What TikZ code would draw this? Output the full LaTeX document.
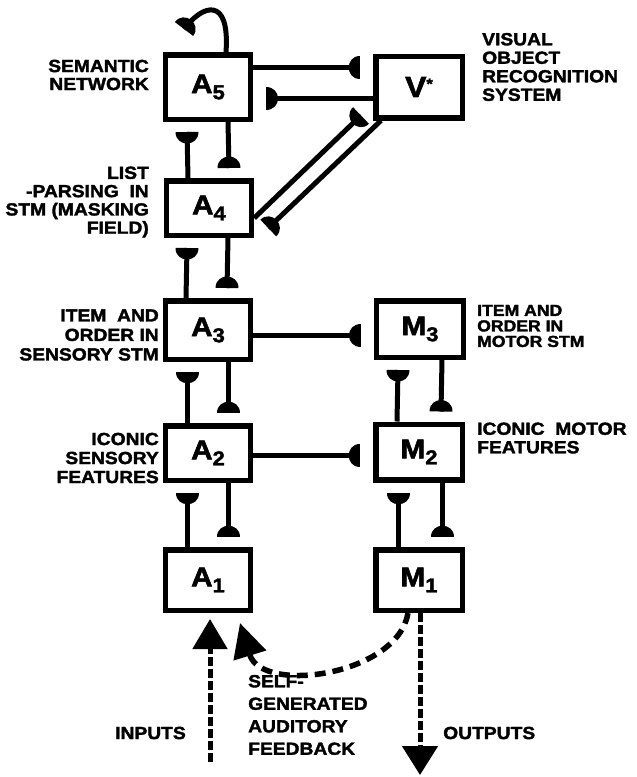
\documentclass[tikz,border=0pt]{standalone}
\usepackage{fontspec}
\newfontfamily\lbl{Liberation Sans}[UprightFont={* Bold},BoldFont={* Bold},FakeStretch=1.1,FakeBold=2]
\usetikzlibrary{calc,arrows.meta}

% filled half-disc terminal at #2, flat side facing away from #1
\newcommand\synterm[2]{%
  \pgfmathanglebetweenpoints{\pgfpointanchor{#1}{center}}{\pgfpointanchor{#2}{center}}%
  \let\synang\pgfmathresult
  \begin{scope}[shift={(#2)},rotate=\synang]
    \fill (0pt,-11.5pt) .. controls (-15.3pt,-11.5pt) and (-15.3pt,11.5pt) .. (0pt,11.5pt) -- cycle;
  \end{scope}}
\newcommand\synline[2]{\draw[conn] (#1) -- (#2); \synterm{#1}{#2}}
% vertical pair of connectors between upper #1 and lower #2
\newcommand\vpair[4]{%
  \coordinate (#1#2ls) at ($(#2.north)+(#3,0)$);
  \coordinate (#1#2le) at ($(#1.south)+(#3,10)$);
  \coordinate (#1#2rs) at ($(#1.south)+(#4,0)$);
  \coordinate (#1#2re) at ($(#2.north)+(#4,-10)$);
  \synline{#1#2ls}{#1#2le}
  \synline{#1#2rs}{#1#2re}}
\newcommand\bsub[2]{{\fontsize{27}{27}\selectfont #1}\raisebox{-6pt}{\fontsize{20}{20}\selectfont #2}}

\tikzset{
  box/.style={draw, line width=5.5pt, minimum width=85pt, inner sep=0pt, font=\lbl},
  conn/.style={line width=5pt},
  lab/.style={inner sep=0pt, font=\lbl\fontsize{17.5}{18}\selectfont},
  dline/.style={line width=5pt, dash pattern=on 9pt off 3pt},
  fbline/.style={line width=5.5pt, dash pattern=on 11pt off 7pt},
}

\begin{document}
\begin{tikzpicture}[x=1pt,y=-1pt]
\useasboundingbox (0,0) rectangle (637,777);

% boxes
\node[box, minimum height=64.5pt] (A5) at (208,87) {\bsub{A}{5}};
\node[box, minimum height=54.5pt] (A4) at (209,208) {\bsub{A}{4}};
\node[box, minimum height=58.5pt] (A3) at (208,330) {\bsub{A}{3}};
\node[box, minimum height=54.5pt] (A2) at (208,453) {\bsub{A}{2}};
\node[box, minimum height=60.5pt] (A1) at (208,580) {\bsub{A}{1}};
\node[box, minimum width=86.5pt, minimum height=61.5pt] (V) at (419,87)
  {\fontsize{29}{29}\selectfont V\raisebox{8pt}{\fontsize{15}{15}\selectfont *}};
\node[box, minimum width=87pt, minimum height=56.5pt] (M3) at (420,329) {\bsub{M}{3}};
\node[box, minimum width=86.5pt, minimum height=55.5pt] (M2) at (419,452) {\bsub{M}{2}};
\node[box, minimum width=86.5pt, minimum height=60.5pt] (M1) at (419,580) {\bsub{M}{1}};

% vertical connectors
\vpair{A5}{A4}{-21}{20}
\vpair{A4}{A3}{-22}{19}
\vpair{A3}{A2}{-21}{20}
\vpair{A2}{A1}{-21}{20}
\vpair{M3}{M2}{-22}{22}
\vpair{M2}{M1}{-21}{23}

% horizontal connectors
\coordinate (h1s) at ($(A5.east)+(0,-20)$);
\coordinate (h1e) at ($(V.west)+(-13,-20)$);
\synline{h1s}{h1e}
\coordinate (h2s) at ($(V.west)+(0,11)$);
\coordinate (h2e) at ($(A5.east)+(13,11)$);
\synline{h2s}{h2e}
\coordinate (h3e) at ($(M3.west)+(-13,6)$);
\coordinate (h3s) at (A3.east |- h3e);
\synline{h3s}{h3e}
\coordinate (h4e) at ($(M2.west)+(-13,3)$);
\coordinate (h4s) at (A2.east |- h4e);
\synline{h4s}{h4e}

% diagonal connectors A4 <-> V*
\coordinate (d1s) at ($(A4.east)+(0,10)$);
\coordinate (d1e) at ($(V.south west)+(-12,-5)$);
\synline{d1s}{d1e}
\coordinate (d2s) at ($(V.south west)+(8,0)$);
\coordinate (d2e) at ($(A4.east)+(14,20)$);
\synline{d2s}{d2e}

% self loop on A5
\coordinate (lp0) at ($(A5.north)+(18,0)$);
\coordinate (lpc) at (203,4);
\coordinate (lp1) at (184,29);
\draw[conn] (lp0) .. controls (230,-4) and (lpc) .. (lp1);
\synterm{lpc}{lp1}

% inputs / outputs / feedback
\coordinate (in0) at (210,762);
\coordinate (in1) at ($(A1.south)+(2,6)$);
\draw[dline, -{Triangle[length=30pt,width=34pt]}] (in0) -- (in1);
\coordinate (out0) at ($(M1.south)+(1,0)$);
\coordinate (out1) at (420,775);
\draw[dline, -{Triangle[length=29pt,width=35pt]}] (out0) -- (out1);
\coordinate (fb0) at ($(M1.south)+(-11,0)$);
\coordinate (fb1) at (240,623);
\draw[fbline, -{Triangle[length=34pt,width=33pt]}] (fb0) .. controls (398,675) and (262,695) .. (fb1);

% labels
\node[lab, anchor=east, align=right] (semlab) at (149,75) {SEMANTIC\\NETWORK};
\node[lab, anchor=east, align=right, font=\lbl\fontsize{17.5}{18.3}\selectfont] (listlab) at (149,202) {LIST\\-PARSING\ \ IN\\STM (MASKING\\FIELD)};
\node[lab, anchor=east, align=right, font=\lbl\fontsize{17.5}{19.5}\selectfont] (itemlab) at (159,335) {ITEM\ \ AND\\ORDER IN\\SENSORY STM};
\node[lab, anchor=east, align=right, font=\lbl\fontsize{17.5}{19}\selectfont] (iconlab) at (159,458) {ICONIC\\SENSORY\\FEATURES};
\node[lab, anchor=west, align=left, font=\lbl\fontsize{17.5}{18.5}\selectfont] (vislab) at (482,67) {VISUAL\\OBJECT\\RECOGNITION\\SYSTEM};
\node[lab, anchor=west, align=left, font=\lbl\fontsize{16}{15.5}\selectfont] (mitemlab) at (477,326) {ITEM AND\\ORDER IN\\MOTOR STM};
\node[lab, anchor=west, align=left, font=\lbl\fontsize{17.5}{18.5}\selectfont] (miconlab) at (477,438) {ICONIC\ \ MOTOR\\FEATURES};
\node[lab, anchor=west, align=left, font=\lbl\fontsize{17.5}{22.5}\selectfont] (fblab) at (248,715) {SELF-\\GENERATED\\AUDITORY\\FEEDBACK};
\node[lab, anchor=west] (inlab) at (115,733) {INPUTS};
\node[lab, anchor=west] (outlab) at (443,733) {OUTPUTS};
\end{tikzpicture}
\end{document}
